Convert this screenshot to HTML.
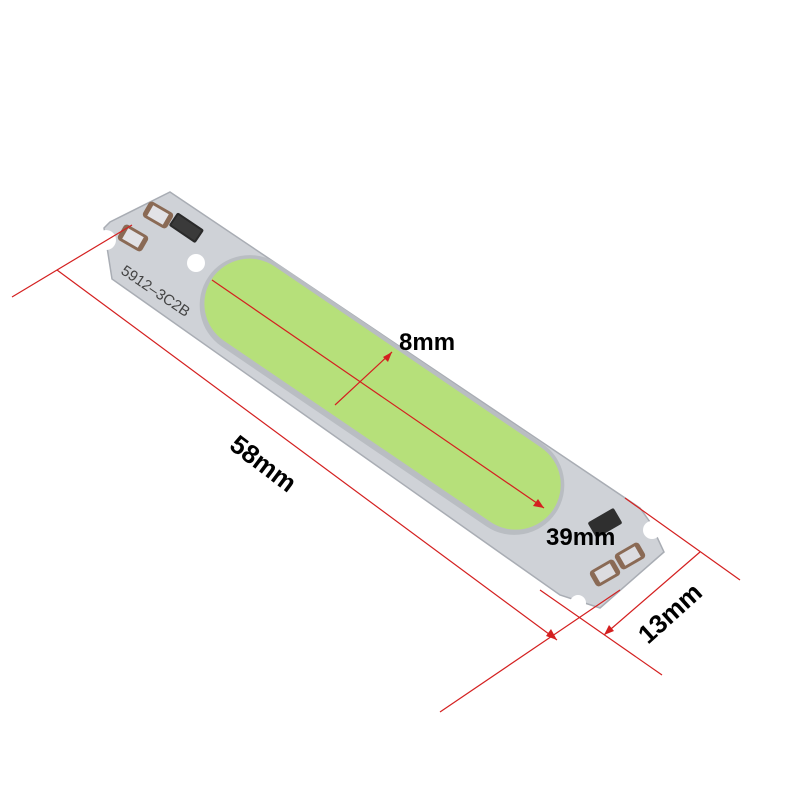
<!DOCTYPE html>
<html><head><style>html,body{margin:0;padding:0;background:#fff;width:800px;height:800px;overflow:hidden}</style></head>
<body>
<svg width="800" height="800" viewBox="0 0 800 800" xmlns="http://www.w3.org/2000/svg" font-family="Liberation Sans, sans-serif">
<rect width="800" height="800" fill="#fff"/>
<!-- board -->
<polygon points="170,192 640,508 650,522 664,552 600,608 560,595 112,279 104,228 110,222" fill="#cfd2d7" stroke="#a9adb4" stroke-width="1.5"/>
<circle cx="106" cy="240" r="10" fill="#fff"/>
<circle cx="652" cy="530" r="9" fill="#fff"/>
<circle cx="578" cy="603" r="8" fill="#fff"/>
<circle cx="196" cy="263" r="9" fill="#fff"/>
<!-- components -->
<g transform="rotate(34 185 228)"><rect x="170" y="219" width="32" height="16" rx="2" fill="#2a2a2a"/><rect x="172" y="221" width="28" height="12" fill="#3a3a3a"/></g>
<g transform="rotate(30 158 215)"><rect x="144" y="206" width="28" height="18" rx="4" fill="#8a6a55"/><rect x="149" y="209" width="18" height="12" fill="#e2e2e6"/></g>
<g transform="rotate(30 133 238)"><rect x="119" y="229" width="28" height="18" rx="4" fill="#8a6a55"/><rect x="124" y="232" width="18" height="12" fill="#e2e2e6"/></g>
<g transform="rotate(-30 605 523)"><rect x="590" y="514" width="30" height="18" rx="2" fill="#2f2f2f"/></g>
<g transform="rotate(-30 630 556)"><rect x="616" y="547" width="28" height="18" rx="4" fill="#8a6a55"/><rect x="621" y="550" width="18" height="12" fill="#dcdce0"/></g>
<g transform="rotate(-30 605 573)"><rect x="591" y="564" width="28" height="18" rx="4" fill="#8a6a55"/><rect x="596" y="567" width="18" height="12" fill="#dcdce0"/></g>
<text x="0" y="0" font-size="15" fill="#444" transform="translate(120,273) rotate(34)">5912–3C2B</text>
<!-- green pill -->
<g transform="rotate(34.2 382 395)">
<rect x="172" y="345" width="420" height="100" rx="50" fill="#b9bdc2"/>
<rect x="176" y="349" width="412" height="90" rx="45" fill="#b6e07a"/>
</g>
<!-- red lines -->
<g stroke="#d42020" stroke-width="1.2" fill="none">
<line x1="12" y1="297" x2="132" y2="225"/>
<line x1="57" y1="270" x2="557" y2="640"/>
<line x1="440" y1="712" x2="620" y2="590"/>
<line x1="540" y1="590" x2="662" y2="675"/>
<line x1="625" y1="498" x2="740" y2="580"/>
<line x1="700" y1="552" x2="604" y2="635"/>
<line x1="212" y1="280" x2="544" y2="508"/>
<line x1="335" y1="405" x2="392" y2="352"/>
</g>
<g fill="#d42020">
<polygon points="557,640 546,636 551,629"/>
<polygon points="604,635 609,625 614,631"/>
<polygon points="544,508 533,506 538,499"/>
<polygon points="392,352 388,362 383,357"/>
</g>
<g font-weight="bold" font-size="24" fill="#000">
<text x="399" y="350">8mm</text>
<text x="546" y="545">39mm</text>
<text font-size="26" transform="translate(228,448) rotate(37)">58mm</text>
<text font-size="26" transform="translate(648,645) rotate(-42)">13mm</text>
</g>
</svg>
</body></html>
